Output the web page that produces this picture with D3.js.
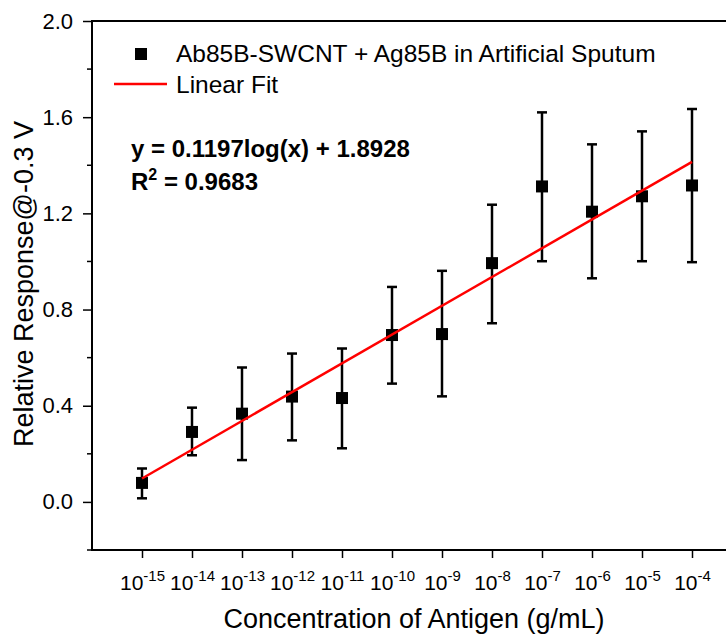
<!DOCTYPE html>
<html>
  <head>
    <meta charset="utf-8" />
    <title>Relative response vs antigen concentration</title>
    <script src="https://d3js.org/d3.v7.min.js"></script>
    <style>
      body { margin: 0; background: #fff; }
      text { font-family: "Liberation Sans", Arial, sans-serif; fill: #000; }
      .ytick text { font-size: 22px; }
      .xlab { font-size: 21px; }
      .xlab tspan { font-size: 15px; }
    </style>
  </head>
  <body>
    <svg id="chart" width="726" height="638"></svg>
    <script>
      // exponents of concentration (g/mL), 10^x
      const logConc = [-15, -14, -13, -12, -11, -10, -9, -8, -7, -6, -5, -4];
      const response = [0.079, 0.291, 0.367, 0.438, 0.432, 0.694, 0.698, 0.993, 1.312, 1.207, 1.271, 1.316];
      const errUp   = [0.139, 0.392, 0.559, 0.617, 0.638, 0.894, 0.961, 1.236, 1.620, 1.487, 1.541, 1.634];
      const errDown = [0.015, 0.194, 0.174, 0.256, 0.223, 0.492, 0.439, 0.743, 1.001, 0.930, 1.001, 0.997];
      const yTicks = [0.0, 0.4, 0.8, 1.2, 1.6, 2.0];
      const yMinorTicks = [-0.2, 0.2, 0.6, 1.0, 1.4, 1.8];
      const fitSlope = 0.1197;
      const fitIntercept = 1.8928;

      const width = 726, height = 638;
      const margin = { top: 21, right: -16, bottom: 88, left: 92 };

      const svg = d3.select('#chart');

      const x = d3.scaleLinear()
        .domain([-16, -3])
        .range([margin.left, width - margin.right]);
      const y = d3.scaleLinear()
        .domain([-0.2, 2.0])
        .range([height - margin.bottom, margin.top]);

      // y axis
      const yAxis = svg.append('g')
        .attr('class', 'ytick')
        .attr('transform', `translate(${margin.left},0)`)
        .call(d3.axisLeft(y).tickValues(yTicks).tickFormat(d3.format('.1f')).tickSize(9).tickPadding(10));
      yAxis.append('g')
        .selectAll('line')
        .data(yMinorTicks)
        .join('line')
        .attr('x1', -5).attr('x2', 0)
        .attr('y1', d => y(d)).attr('y2', d => y(d))
        .attr('stroke', '#000').attr('stroke-width', 1.5);

      // x axis
      const xAxis = svg.append('g')
        .attr('transform', `translate(0,${height - margin.bottom})`)
        .call(d3.axisBottom(x).tickValues(logConc).tickFormat('').tickSize(8));
      xAxis.selectAll('.tick').append('text')
        .attr('class', 'xlab')
        .attr('y', 40)
        .attr('text-anchor', 'middle')
        .html(d => `10<tspan dy="-9">${d}</tspan>`);

      [yAxis, xAxis].forEach(g => {
        g.select('.domain').remove();
        g.selectAll('.tick line').attr('stroke-width', 1.5);
        g.selectAll('text').attr('fill', '#000').attr('font-family', null).attr('font-size', null);
      });
      yAxis.attr('font-size', null).attr('font-family', null);
      xAxis.attr('font-size', null).attr('font-family', null);

      // frame: left, bottom, top
      const frame = svg.append('g').attr('stroke', '#000').attr('stroke-width', 2);
      frame.append('line')
        .attr('x1', x(-16)).attr('x2', x(-16))
        .attr('y1', y(2.0) - 1).attr('y2', y(-0.2) + 1);
      frame.append('line')
        .attr('x1', x(-16)).attr('x2', x(-3))
        .attr('y1', y(-0.2)).attr('y2', y(-0.2));
      frame.append('line')
        .attr('x1', x(-16)).attr('x2', x(-3))
        .attr('y1', y(2.0)).attr('y2', y(2.0));

      // axis titles
      svg.append('text')
        .attr('x', 414)
        .attr('y', 628)
        .attr('text-anchor', 'middle')
        .attr('font-size', 27)
        .text('Concentration of Antigen (g/mL)');
      svg.append('text')
        .attr('transform', `translate(33,284) rotate(-90)`)
        .attr('text-anchor', 'middle')
        .attr('font-size', 27)
        .text('Relative Response@-0.3 V');

      // error bars
      const data = logConc.map((c, i) => ({ c, v: response[i], hi: errUp[i], lo: errDown[i] }));
      const eb = svg.append('g').attr('stroke', '#000').attr('stroke-width', 2.5);
      eb.selectAll('.stem').data(data).join('line').attr('class', 'stem')
        .attr('x1', d => x(d.c)).attr('x2', d => x(d.c))
        .attr('y1', d => y(d.hi)).attr('y2', d => y(d.lo));
      eb.selectAll('.capHi').data(data).join('line').attr('class', 'capHi')
        .attr('x1', d => x(d.c) - 5).attr('x2', d => x(d.c) + 5)
        .attr('y1', d => y(d.hi)).attr('y2', d => y(d.hi));
      eb.selectAll('.capLo').data(data).join('line').attr('class', 'capLo')
        .attr('x1', d => x(d.c) - 5).attr('x2', d => x(d.c) + 5)
        .attr('y1', d => y(d.lo)).attr('y2', d => y(d.lo));

      // markers
      svg.append('g').selectAll('rect').data(data).join('rect')
        .attr('x', d => x(d.c) - 6).attr('y', d => y(d.v) - 6)
        .attr('width', 12).attr('height', 12)
        .attr('fill', '#000');

      // linear fit
      const line = d3.line().x(d => x(d)).y(d => y(fitSlope * d + fitIntercept));
      svg.append('path')
        .datum([logConc[0], logConc[logConc.length - 1]])
        .attr('d', line)
        .attr('fill', 'none')
        .attr('stroke', '#f00')
        .attr('stroke-width', 2.5);

      // legend
      const lg = svg.append('g');
      lg.append('rect').attr('x', 135).attr('y', 48).attr('width', 12).attr('height', 12).attr('fill', '#000');
      lg.append('text').attr('x', 176).attr('y', 62).attr('font-size', 24.5)
        .text('Ab85B-SWCNT + Ag85B in Artificial Sputum');
      lg.append('line').attr('x1', 114).attr('x2', 167).attr('y1', 84).attr('y2', 84)
        .attr('stroke', '#f00').attr('stroke-width', 2.5);
      lg.append('text').attr('x', 176).attr('y', 93).attr('font-size', 24.5).text('Linear Fit');

      // fit equation
      svg.append('text').attr('x', 131).attr('y', 157).attr('font-size', 24).attr('font-weight', 'bold')
        .text(`y = ${fitSlope}log(x) + ${fitIntercept}`);
      svg.append('text').attr('x', 131).attr('y', 190).attr('font-size', 24).attr('font-weight', 'bold')
        .html('R<tspan dy="-10" font-size="16">2</tspan><tspan dy="10"> = 0.9683</tspan>');
    </script>
  </body>
</html>
